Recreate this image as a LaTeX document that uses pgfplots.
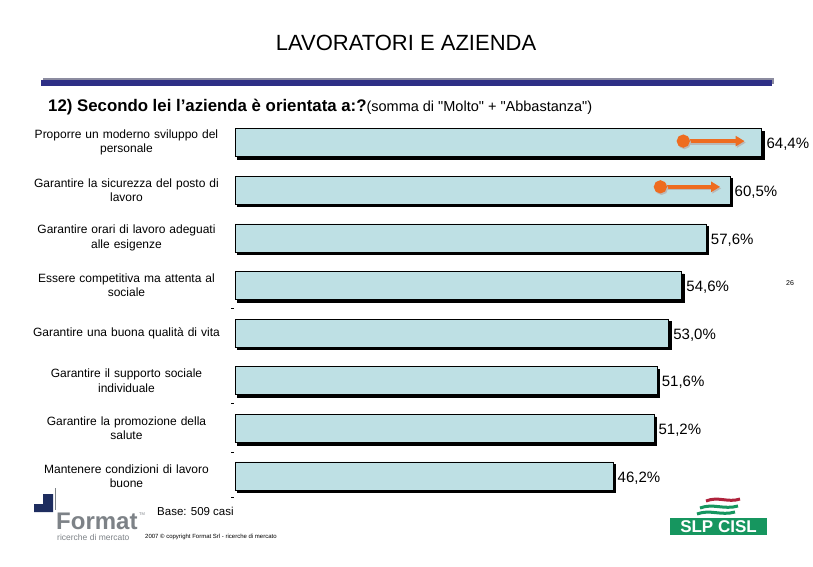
\documentclass[border=0pt]{standalone}
\usepackage{pgfplots}
\pgfplotsset{compat=1.18}
\usepackage{fontspec}
\setmainfont{Liberation Sans}[Ligatures=TeXOff]
\usetikzlibrary{arrows.meta}
\definecolor{barfill}{RGB}{190,224,228}
\definecolor{arroworange}{RGB}{238,108,32}
\definecolor{navyline}{RGB}{46,47,134}
\definecolor{shadowgray}{RGB}{140,140,160}
\definecolor{slpgreen}{RGB}{22,150,95}
\definecolor{slpred}{RGB}{175,35,60}
\definecolor{formatnavy}{RGB}{30,45,95}
\definecolor{formatgray}{RGB}{125,130,135}
\begin{document}
\begin{tikzpicture}
\path[use as bounding box, fill=white] (0pt,0pt) rectangle (813pt,-566pt);
% title
\node[font=\fontsize{22}{24}\selectfont] at (406pt,-43pt) {LAVORATORI E AZIENDA};
\fill[shadowgray] (43pt,-78pt) rectangle (774pt,-84pt);
\fill[navyline] (41pt,-80pt) rectangle (772pt,-86pt);
\node[anchor=base west, inner sep=0pt] at (48pt,-111pt) {\fontsize{16.8}{18}\selectfont\bfseries 12) Secondo lei l’azienda è orientata a:?\fontsize{14.5}{16}\selectfont\mdseries(somma di "Molto" + "Abbastanza")};
% stray dashes
\foreach \yy in {308,403,452,497} \draw[line width=0.6pt] (231pt,-\yy pt) -- (234pt,-\yy pt);
\begin{axis}[
  at={(235pt,-118.7pt)}, anchor=north west,
  scale only axis, width=572.6pt, height=381.1pt,
  xmin=0, xmax=70, ymin=-0.5, ymax=7.5, y dir=reverse,
  bar width=28pt,
  axis line style={draw=none},
  xtick=\empty, ytick={0,...,7},
  yticklabels={{Proporre un moderno sviluppo del\\personale},
    {Garantire la sicurezza del posto di\\lavoro},
    {Garantire orari di lavoro adeguati\\alle esigenze},
    {Essere competitiva ma attenta al\\sociale},
    {Garantire una buona qualità di vita},
    {Garantire il supporto sociale\\individuale},
    {Garantire la promozione della\\salute},
    {Mantenere condizioni di lavoro\\buone}},
  major tick style={draw=none},
  yticklabel style={font=\fontsize{12}{14.5}\selectfont, align=center, text width=204pt, xshift=-3pt},
  clip=false,
  /pgf/number format/assume math mode=true,
]
\addplot[xbar, bar shift=0pt, fill=black, draw=black, xshift=2.5pt, yshift=-2.5pt]
  coordinates {(64.4,0) (60.5,1) (57.6,2) (54.6,3) (53.0,4) (51.6,5) (51.2,6) (46.2,7)};
\addplot[xbar, bar shift=0pt, fill=barfill, draw=black, line width=0.6pt,
  nodes near coords={\pgfmathprintnumber[fixed,fixed zerofill,precision=1,use comma]{\pgfplotspointmeta}\%},
  nodes near coords style={anchor=west, inner sep=1pt, xshift=3.5pt, yshift=-2pt, font=\fontsize{15}{15}\selectfont, text=black}]
  coordinates {(64.4,0) (60.5,1) (57.6,2) (54.6,3) (53.0,4) (51.6,5) (51.2,6) (46.2,7)};
% arrows
\addplot[gray!55, line width=4pt, -{Triangle[length=9pt,width=10pt]}, mark=*, mark size=4.5pt, mark indices={1}, mark options={solid, fill=gray!55, draw=gray!55}, xshift=1.2pt, yshift=-1.5pt]
  coordinates {(54.8,-0.03) (62.3,-0.03)};
\addplot[gray!55, line width=4pt, -{Triangle[length=9pt,width=10pt]}, mark=*, mark size=4.5pt, mark indices={1}, mark options={solid, fill=gray!55, draw=gray!55}, xshift=1.2pt, yshift=-1.5pt]
  coordinates {(52.0,0.93) (59.3,0.93)};
\addplot[arroworange, line width=4pt, -{Triangle[length=9pt,width=10pt]}, mark=*, mark size=4.5pt, mark indices={1}, mark options={solid, fill=arroworange, draw=arroworange}]
  coordinates {(54.8,-0.03) (62.3,-0.03)};
\addplot[arroworange, line width=4pt, -{Triangle[length=9pt,width=10pt]}, mark=*, mark size=4.5pt, mark indices={1}, mark options={solid, fill=arroworange, draw=arroworange}]
  coordinates {(52.0,0.93) (59.3,0.93)};
\end{axis}
% page number
\node[font=\fontsize{7}{7}\selectfont] at (790pt,-283pt) {26};
% base
\node[anchor=west, inner sep=0pt, font=\fontsize{11.5}{12}\selectfont] at (157pt,-511pt) {Base: 509 casi};
\node[anchor=west, inner sep=0pt, font=\fontsize{6}{6}\selectfont] at (145pt,-537pt) {2007 © copyright Format Srl - ricerche di mercato};
% Format logo
\fill[formatnavy] (34pt,-504pt) -- (43pt,-504pt) -- (43pt,-494pt) -- (53pt,-494pt) -- (53pt,-512pt) -- (34pt,-512pt) -- cycle;
\draw[formatgray, line width=1pt] (55pt,-488pt) -- (55pt,-510pt);
\node[anchor=base west, inner sep=0pt, text=formatgray, font=\fontsize{24}{24}\selectfont\bfseries] at (56pt,-529pt) {Format};
\node[anchor=west, inner sep=0pt, text=formatgray, font=\fontsize{4}{4}\selectfont] at (139pt,-514pt) {TM};
\node[anchor=base west, inner sep=0pt, text=formatgray, font=\fontsize{8.5}{9}\selectfont] at (57pt,-540pt) {ricerche di mercato};
% SLP CISL logo
\fill[slpgreen] (670pt,-518pt) rectangle (767pt,-535pt);
\node[text=white, font=\fontsize{17}{17}\selectfont\bfseries] at (718.5pt,-526.5pt) {SLP CISL};
\draw[slpred, line width=3pt] (706pt,-501pt) .. controls (718pt,-496pt) and (728pt,-503pt) .. (740pt,-499pt);
\draw[slpgreen, line width=3pt] (700pt,-508pt) .. controls (713pt,-503pt) and (724pt,-510pt) .. (738pt,-506pt);
\draw[slpgreen, line width=3pt] (697pt,-514pt) .. controls (710pt,-509pt) and (721pt,-516pt) .. (735pt,-512pt);
\end{tikzpicture}
\end{document}
